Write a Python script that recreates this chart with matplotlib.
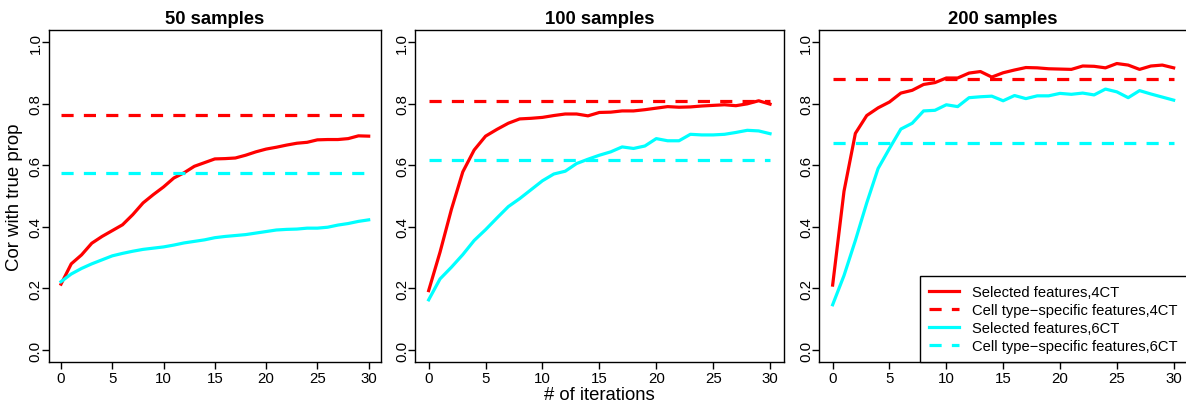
import matplotlib
matplotlib.use("Agg")
import matplotlib.pyplot as plt
from matplotlib.lines import Line2D

plt.rcParams['font.family'] = ['Liberation Sans', 'DejaVu Sans']

iterations = list(range(31))
titles = ["50 samples", "100 samples", "200 samples"]

sel_4ct_50 = [0.214, 0.280, 0.309, 0.347, 0.369, 0.388, 0.407, 0.440, 0.478, 0.505,
              0.530, 0.559, 0.576, 0.597, 0.609, 0.621, 0.622, 0.624, 0.633, 0.644,
              0.653, 0.659, 0.666, 0.672, 0.675, 0.683, 0.684, 0.684, 0.687, 0.696, 0.695]
sel_6ct_50 = [0.222, 0.247, 0.265, 0.280, 0.293, 0.306, 0.314, 0.321, 0.327, 0.331,
              0.335, 0.341, 0.348, 0.353, 0.358, 0.365, 0.369, 0.372, 0.375, 0.380,
              0.385, 0.390, 0.392, 0.393, 0.396, 0.396, 0.399, 0.406, 0.411, 0.418, 0.423]
sel_4ct_100 = [0.193, 0.318, 0.457, 0.579, 0.650, 0.695, 0.717, 0.737, 0.751, 0.753,
               0.756, 0.762, 0.767, 0.767, 0.761, 0.772, 0.773, 0.777, 0.777, 0.781,
               0.786, 0.791, 0.789, 0.790, 0.793, 0.795, 0.797, 0.794, 0.800, 0.810, 0.799]
sel_6ct_100 = [0.163, 0.231, 0.269, 0.310, 0.356, 0.391, 0.429, 0.466, 0.492, 0.521,
               0.550, 0.572, 0.581, 0.606, 0.620, 0.633, 0.644, 0.660, 0.655, 0.663,
               0.687, 0.680, 0.680, 0.701, 0.699, 0.699, 0.701, 0.707, 0.714, 0.712, 0.703]
sel_4ct_200 = [0.211, 0.516, 0.704, 0.762, 0.787, 0.806, 0.835, 0.844, 0.863, 0.869,
               0.884, 0.884, 0.900, 0.905, 0.887, 0.901, 0.910, 0.918, 0.917, 0.914,
               0.913, 0.912, 0.923, 0.922, 0.917, 0.931, 0.926, 0.912, 0.923, 0.926, 0.917]
sel_6ct_200 = [0.147, 0.242, 0.356, 0.478, 0.590, 0.655, 0.718, 0.737, 0.777, 0.779,
               0.797, 0.791, 0.820, 0.823, 0.825, 0.810, 0.827, 0.817, 0.826, 0.826,
               0.834, 0.831, 0.835, 0.829, 0.848, 0.839, 0.820, 0.843, 0.832, 0.822, 0.812]

ct_4ct = [0.764, 0.808, 0.880]
ct_6ct = [0.576, 0.619, 0.674]

sel_4ct = [sel_4ct_50, sel_4ct_100, sel_4ct_200]
sel_6ct = [sel_6ct_50, sel_6ct_100, sel_6ct_200]

legend_labels = ["Selected features,4CT", "Cell type\u2212specific features,4CT",
                 "Selected features,6CT", "Cell type\u2212specific features,6CT"]

x_ticks = [0, 5, 10, 15, 20, 25, 30]
y_ticks = [0.0, 0.2, 0.4, 0.6, 0.8, 1.0]
y_tick_labels = ["0.0", "0.2", "0.4", "0.6", "0.8", "1.0"]

W, H = 1186, 402
fig = plt.figure(figsize=(W / 100, H / 100), dpi=100)

panels_px = [(48.7, 381.0), (415.0, 783.7), (819.0, 1187.3)]
top_px, bot_px = 31.0, 363.3

RED = "#FF0000"
CYAN = "#00FFFF"
LW = 2.3
DASH = (0, (3.8, 3.2))

axes = []
for i, (l, r) in enumerate(panels_px):
    ax = fig.add_axes([l / W, (H - bot_px) / H, (r - l) / W, (bot_px - top_px) / H])
    axes.append(ax)
    xmin, xmax = iterations[0], iterations[-1]
    ax.plot(iterations, sel_4ct[i], color=RED, lw=LW, solid_joinstyle='round')
    ax.plot([xmin, xmax], [ct_4ct[i], ct_4ct[i]], color=RED, lw=LW, linestyle=DASH)
    ax.plot(iterations, sel_6ct[i], color=CYAN, lw=LW, solid_joinstyle='round')
    ax.plot([xmin, xmax], [ct_6ct[i], ct_6ct[i]], color=CYAN, lw=LW, linestyle=DASH)
    ax.set_xlim(-1.2, 31.2)
    ax.set_ylim(-0.04, 1.04)
    ax.set_xticks(x_ticks)
    ax.set_xticklabels([str(t) for t in x_ticks])
    ax.set_yticks(y_ticks)
    ax.set_yticklabels(y_tick_labels, rotation=90, va='center')
    ax.tick_params(direction='out', length=5.3, width=1.0, labelsize=10.8, colors='black')
    ax.tick_params(axis='x', pad=1)
    ax.tick_params(axis='y', pad=-1)
    for s in ax.spines.values():
        s.set_linewidth(1.0)
        s.set_color('black')
    ax.set_title(titles[i], fontsize=13.3, fontweight='bold', pad=5)

axes[0].set_ylabel("Cor with true prop", fontsize=13.4, labelpad=4)
axes[1].set_xlabel("# of iterations", fontsize=13.3, labelpad=0.5)

handles = [Line2D([], [], color=RED, lw=LW),
           Line2D([], [], color=RED, lw=LW, linestyle=DASH),
           Line2D([], [], color=CYAN, lw=LW),
           Line2D([], [], color=CYAN, lw=LW, linestyle=DASH)]
leg = axes[2].legend(handles, legend_labels, loc='lower right', bbox_to_anchor=(1.0, 0.0),
                     borderaxespad=0, fontsize=10.6, fancybox=False, framealpha=1,
                     edgecolor='black', handlelength=2.0, handletextpad=0.9,
                     labelspacing=0.26, borderpad=0.65)
leg.get_frame().set_linewidth(1.0)

fig.savefig("out.png", dpi=100)
